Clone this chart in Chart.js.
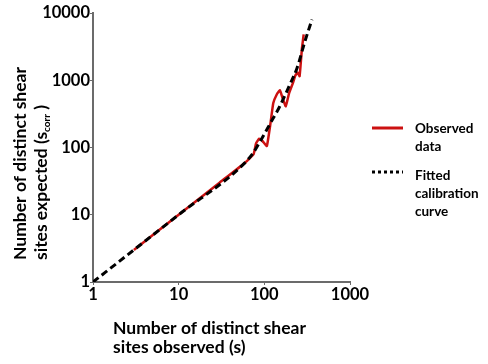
<!DOCTYPE html>
<html>
<head>
<meta charset="utf-8">
<script src="https://cdn.jsdelivr.net/npm/chart.js@4.4.0/dist/chart.umd.min.js"></script>
<style>
  html, body { margin: 0; padding: 0; background: #fff; }
  #wrap { width: 488px; height: 364px; position: relative; }
</style>
</head>
<body>
<div id="wrap"><canvas id="chart" width="488" height="364"></canvas></div>
<script>
// Observed data (red)
const obsX = [3, 10, 30, 60, 75, 80, 87, 95, 107, 118, 127, 140, 152, 165, 178, 195, 215, 230, 245, 258, 275, 288];
const obsY = [3, 10, 30, 60, 80, 115, 135, 125, 105, 230, 455, 620, 710, 520, 410, 650, 900, 1180, 1300, 1150, 3000, 4800];

// Fitted calibration curve (black dashed)
const fitX = [1, 10, 60, 75, 90, 120, 150, 200, 240, 300, 360];
const fitY = [1, 10, 60, 85, 125, 240, 400, 880, 1500, 3900, 8000];

const xTicks = [1, 10, 100, 1000];
const yTicks = [1, 10, 100, 1000, 10000];

const FONT = 'Lato, "Open Sans", sans-serif';
const axisColor = '#6b6b6b';

function toPoints(xs, ys) {
    return xs.map((x, i) => ({ x: x, y: ys[i] }));
}

function keepTicks(list) {
    return function (scale) {
        scale.ticks = list.map(v => ({ value: v }));
    };
}

// titles and legend drawn by hand
const annotations = {
    id: 'annotations',
    afterDraw(chart) {
        const ctx = chart.ctx;
        ctx.save();
        ctx.fillStyle = '#000';
        ctx.textBaseline = 'alphabetic';
        ctx.textAlign = 'left';

        // x title
        ctx.font = 'bold 17.5px ' + FONT;
        ctx.fillText('Number of distinct shear', 113, 334);
        ctx.fillText('sites observed (s)', 113, 353);

        // y title (rotated)
        ctx.save();
        ctx.rotate(-Math.PI / 2);
        ctx.font = 'bold 17.5px ' + FONT;
        ctx.fillText('Number of distinct shear', -260, 26);
        let w = ctx.measureText('sites expected (s').width;
        ctx.fillText('sites expected (s', -260, 47);
        ctx.font = 'bold 10px ' + FONT;
        ctx.fillText('corr', -260 + w, 50);
        let w2 = ctx.measureText('corr').width;
        ctx.font = 'bold 17.5px ' + FONT;
        ctx.fillText(' )', -260 + w + w2, 47);
        ctx.restore();

        // legend
        ctx.strokeStyle = '#cc1111';
        ctx.lineWidth = 3;
        ctx.beginPath();
        ctx.moveTo(372, 128);
        ctx.lineTo(403, 128);
        ctx.stroke();

        ctx.strokeStyle = '#000';
        ctx.setLineDash([3, 3]);
        ctx.beginPath();
        ctx.moveTo(372, 172);
        ctx.lineTo(403, 172);
        ctx.stroke();
        ctx.setLineDash([]);

        ctx.font = 'bold 13.5px ' + FONT;
        ctx.fillText('Observed', 415, 133);
        ctx.fillText('data', 415, 151);
        ctx.fillText('Fitted', 415, 180);
        ctx.fillText('calibration', 415, 198);
        ctx.fillText('curve', 415, 216);
        ctx.restore();
    }
};

new Chart(document.getElementById('chart'), {
    type: 'scatter',
    data: {
        datasets: [
            {
                label: 'Observed data',
                data: toPoints(obsX, obsY),
                showLine: true,
                borderColor: '#cc1111',
                borderWidth: 2.5,
                pointRadius: 0,
                tension: 0.1,
                order: 2
            },
            {
                label: 'Fitted calibration curve',
                data: toPoints(fitX, fitY),
                showLine: true,
                borderColor: '#000',
                borderWidth: 3,
                borderDash: [7, 4],
                pointRadius: 0,
                cubicInterpolationMode: 'monotone',
                order: 1
            }
        ]
    },
    options: {
        responsive: false,
        animation: false,
        layout: { padding: { left: 0, right: 138, top: 13, bottom: 0 } },
        plugins: {
            legend: { display: false },
            tooltip: { enabled: false }
        },
        scales: {
            x: {
                type: 'logarithmic',
                min: 1,
                max: 1000,
                afterBuildTicks: keepTicks(xTicks),
                afterFit(scale) { scale.height = 364 - 282; },
                border: { color: axisColor, width: 2 },
                grid: { drawOnChartArea: false, drawTicks: true, tickLength: 3, color: axisColor },
                ticks: {
                    color: '#000',
                    font: { family: FONT, size: 16.5, weight: 'bold' },
                    padding: 0,
                    maxRotation: 0,
                    callback: v => String(v)
                }
            },
            y: {
                type: 'logarithmic',
                min: 1,
                max: 10000,
                afterBuildTicks: keepTicks(yTicks),
                afterFit(scale) { scale.width = 93; },
                border: { color: axisColor, width: 2 },
                grid: { drawOnChartArea: false, drawTicks: true, tickLength: 3, color: axisColor },
                ticks: {
                    color: '#000',
                    font: { family: FONT, size: 16.5, weight: 'bold' },
                    padding: 0,
                    callback: v => String(v)
                }
            }
        }
    },
    plugins: [annotations]
});
</script>
</body>
</html>
